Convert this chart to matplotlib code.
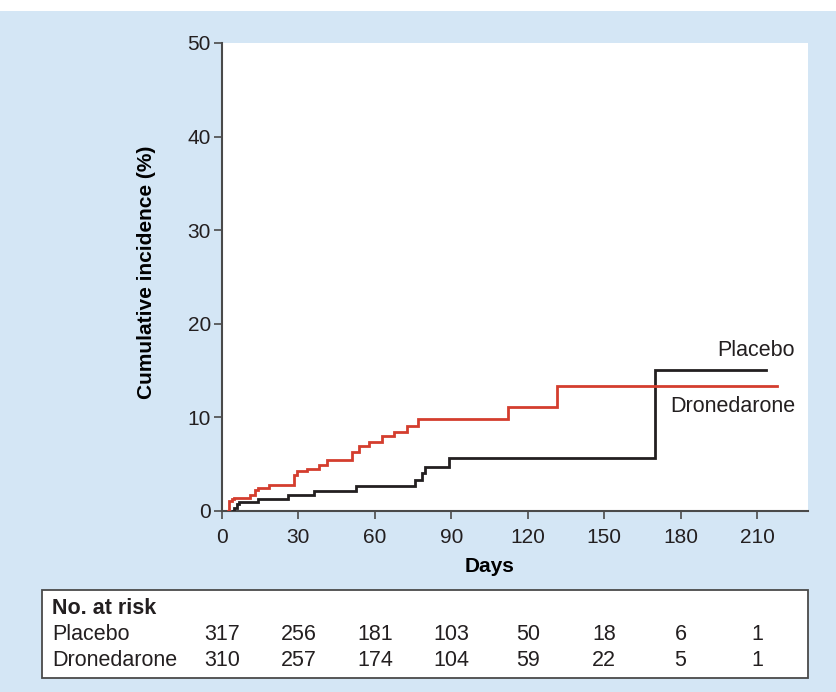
import matplotlib
matplotlib.use("Agg")
import matplotlib.pyplot as plt
from matplotlib.patches import Rectangle

plt.rcParams['font.family'] = ['Liberation Sans', 'DejaVu Sans']

# Data
dron_days = [2.4, 2.9, 3.8, 4.8, 11.0, 12.9, 14.0, 18.5, 28.3, 29.5, 33.2, 38.0, 41.3,
             51.0, 53.8, 57.7, 62.7, 67.5, 72.7, 76.9, 112.1, 131.5, 218.0]
dron_vals = [0.0, 1.06, 1.24, 1.4, 1.67, 2.2, 2.45, 2.77, 3.8, 4.3, 4.5, 4.9, 5.46,
             6.35, 6.9, 7.35, 8.0, 8.45, 9.1, 9.8, 11.14, 13.39, 13.39]
plac_days = [4.3, 4.8, 5.7, 6.8, 14.0, 26.0, 36.2, 52.6, 75.6, 78.6, 79.6, 89.0, 170.0, 213.4]
plac_vals = [0.0, 0.35, 0.7, 1.0, 1.3, 1.74, 2.13, 2.66, 3.26, 4.04, 4.7, 5.7, 15.1, 15.1]

x_ticks = [0, 30, 60, 90, 120, 150, 180, 210]
y_ticks = [0, 10, 20, 30, 40, 50]
risk_groups = ['Placebo', 'Dronedarone']
risk_placebo = [317, 256, 181, 103, 50, 18, 6, 1]
risk_dron = [310, 257, 174, 104, 59, 22, 5, 1]

W, H = 837, 692
BLUE = '#d4e6f5'
RED = '#d43d2e'
BLACK = '#231f20'
GRAY = '#4a4a4a'

fig = plt.figure(figsize=(W / 100, H / 100), dpi=100, facecolor=BLUE)
# white strip at top
fig.patches.append(Rectangle((0, 1 - 11 / H), 1, 11 / H, transform=fig.transFigure,
                             facecolor='white', edgecolor='none', zorder=0))

ax = fig.add_axes([222 / W, 181 / H, (808 - 222) / W, (511 - 43) / H])
ax.set_facecolor('white')
ax.set_xlim(0, 230)
ax.set_ylim(0, 50)

ax.step(plac_days, plac_vals, where='post', color=BLACK, lw=2.0, solid_joinstyle='miter', zorder=3)
ax.step(dron_days, dron_vals, where='post', color=RED, lw=2.0, solid_joinstyle='miter', zorder=3)

for s in ['top', 'right']:
    ax.spines[s].set_visible(False)
for s in ['left', 'bottom']:
    ax.spines[s].set_color(GRAY)
    ax.spines[s].set_linewidth(1.5)

ax.set_xticks(x_ticks)
ax.set_yticks(y_ticks)
ax.tick_params(axis='both', direction='out', length=6, width=1.2, color=GRAY,
               labelsize=15, labelcolor='#231f20', pad=2)
ax.tick_params(axis='x', pad=6)

ax.set_xlabel('Days', fontsize=15, fontweight='bold', va='center')
ax.xaxis.set_label_coords((490 - 222) / 586, -(566 - 511) / 468)
ax.set_ylabel('Cumulative incidence (%)', fontsize=15, fontweight='bold', va='center')
ax.yaxis.set_label_coords((147 - 222) / 586, (511 - 272) / 468)

ax.text(795 / W, 1 - 350 / H, 'Placebo', transform=fig.transFigure, ha='right', va='center',
        fontsize=15.5, color=BLACK)
ax.text(795 / W, 1 - 406 / H, 'Dronedarone', transform=fig.transFigure, ha='right', va='center',
        fontsize=15.5, color=BLACK)

# Number at risk table
fig.patches.append(Rectangle((42 / W, 1 - 678 / H), (808 - 42) / W, (678 - 590) / H,
                             transform=fig.transFigure, facecolor='white',
                             edgecolor=GRAY, linewidth=1.3, zorder=1))
fig.text(52 / W, 1 - 608 / H, 'No. at risk', fontsize=15.5, fontweight='bold',
         ha='left', va='center', color=BLACK)
row_y = [635, 660]
for name, ry, counts in zip(risk_groups, row_y, [risk_placebo, risk_dron]):
    fig.text(52 / W, 1 - ry / H, name, fontsize=15.5, ha='left', va='center', color=BLACK)
    for t, c in zip(x_ticks, counts):
        xf = ax.transData.transform((t, 0))[0] / W
        fig.text(xf, 1 - ry / H, str(c), fontsize=15.5, ha='center', va='center', color=BLACK)

fig.savefig('out.png', dpi=100, facecolor=BLUE)
